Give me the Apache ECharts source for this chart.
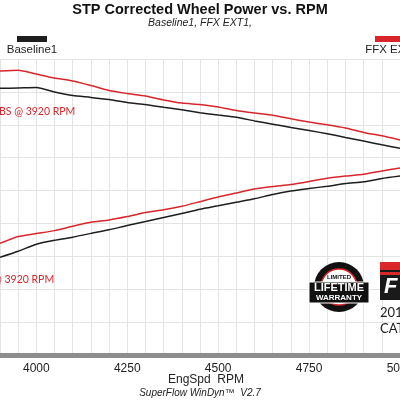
<!DOCTYPE html>
<html>
<head>
<meta charset="utf-8">
<script src="https://cdn.jsdelivr.net/npm/echarts@6/dist/echarts.min.js"></script>
<style>
  html, body { margin: 0; padding: 0; background: #fff; }
  #chart { width: 400px; height: 400px; }
</style>
</head>
<body>
<div id="chart"></div>
<script>
// engine speed, every 50 rpm
const rpm = [3900, 3950, 4000, 4050, 4100, 4150, 4200, 4250, 4300, 4350, 4400, 4450,
  4500, 4550, 4600, 4650, 4700, 4750, 4800, 4850, 4900, 4950, 5000]

// upper pair: torque, lower pair: power (chart units, y axis is hidden)
const baselineTorque = [405.5, 405.9, 406.5, 399.8, 394.4, 391.6, 388.3, 383.9, 380.7, 376.7, 372.8, 368.4,
  364.7, 361.4, 355.9, 350.9, 345.9, 341.3, 336.3, 330.8, 325.3, 319.6, 314.2]
const ffxTorque = [431.8, 433.0, 427.1, 421.1, 416.6, 409.7, 402.1, 397.6, 393.8, 387.8, 383.0, 380.8,
  377.2, 371.7, 367.8, 364.4, 359.1, 354.2, 350.0, 345.1, 338.4, 333.2, 326.9]
const baselinePower = [148.5, 157.8, 168.4, 174.4, 179.1, 184.9, 190.3, 196.9, 202.8, 209.0, 215.1, 221.5,
  226.8, 232.2, 237.5, 244.0, 249.3, 253.1, 256.6, 260.7, 263.3, 268.3, 272.1]
const ffxPower = [169.8, 180.2, 184.7, 189.1, 195.8, 201.7, 205.2, 210.4, 216.5, 220.7, 226.1, 233.1,
  240.2, 246.3, 252.4, 256.2, 259.2, 263.8, 268.8, 272.1, 274.7, 279.7, 284.3]

const xTicks = [4000, 4250, 4500, 4750, 5000]
const runNames = ['Baseline1', 'FFX EXT1']

const RED = '#d8262b'
const BLACK = '#1e1e1e'
const GRID = '#e4e4e4'
const SANS = '"Liberation Sans", Arial, sans-serif'
const LABEL_FONT = 'Lato, "Open Sans", sans-serif'

const pairs = (ys) => rpm.map((r, i) => [r, ys[i]])

const chart = echarts.init(document.getElementById('chart'))

const option = {
  backgroundColor: '#fff',
  animation: false,
  title: {
    text: 'STP Corrected Wheel Power vs. RPM',
    subtext: runNames.join(', ') + ',',
    left: 'center',
    top: -3,
    itemGap: 1,
    textStyle: { fontFamily: SANS, fontSize: 14.5, fontWeight: 'bold', color: '#111' },
    subtextStyle: { fontFamily: SANS, fontSize: 10.5, fontStyle: 'italic', color: '#222' },
  },
  // outer bounds off so the 5000 label can run past the right edge
  grid: { left: 0, right: 0, top: 59, bottom: 45, outerBoundsMode: 'none', containLabel: false },
  xAxis: {
    type: 'value',
    min: 3900,
    max: 5000,
    interval: 50,
    axisLine: { lineStyle: { color: '#8d8d8d', width: 5 } },
    axisTick: { show: false },
    axisLabel: {
      margin: 8,
      fontFamily: SANS,
      fontSize: 12,
      color: '#222',
      showMaxLabel: true,
      hideOverlap: false,
      formatter: (v) => (xTicks.includes(v) ? String(v) : ''),
    },
    splitLine: { show: true, lineStyle: { color: GRID, width: 1 } },
  },
  yAxis: {
    type: 'value',
    min: 0,
    max: 450,
    interval: 50,
    axisLine: { show: false },
    axisTick: { show: false },
    axisLabel: { show: false },
    splitLine: { show: true, lineStyle: { color: GRID, width: 1 } },
  },
  series: [
    { name: 'Baseline1 TQ', data: pairs(baselineTorque), color: BLACK },
    { name: 'FFX EXT1 TQ', data: pairs(ffxTorque), color: RED },
    { name: 'Baseline1 HP', data: pairs(baselinePower), color: BLACK },
    { name: 'FFX EXT1 HP', data: pairs(ffxPower), color: RED },
  ].map((s) => ({
    type: 'line',
    name: s.name,
    data: s.data,
    symbol: 'none',
    smooth: 0.2,
    lineStyle: { width: 1.5, color: s.color },
    z: 3,
  })),
  graphic: [
    // legend swatches with the run name under each
    { type: 'rect', shape: { x: 17, y: 36, width: 30, height: 6 }, style: { fill: BLACK } },
    { type: 'text', x: 32, y: 50, style: { text: runNames[0], font: '11.5px ' + SANS, fill: '#222', align: 'center', verticalAlign: 'middle' } },
    { type: 'rect', shape: { x: 375, y: 36, width: 30, height: 6 }, style: { fill: RED } },
    { type: 'text', x: 392, y: 50, style: { text: runNames[1], font: '11.5px ' + SANS, fill: '#222', align: 'center', verticalAlign: 'middle' } },

    // peak notes, cut off at the left edge like the original
    { type: 'text', x: -1, y: 112, z: 10, style: { text: 'BS @ 3920 RPM', font: '10.5px ' + LABEL_FONT, fill: RED, verticalAlign: 'middle' } },
    { type: 'text', x: -7, y: 280, z: 10, style: { text: '@ 3920 RPM', font: '10.5px ' + LABEL_FONT, fill: RED, verticalAlign: 'middle' } },

    // warranty badge
    { type: 'circle', shape: { cx: 339, cy: 287, r: 25 }, style: { fill: '#111' }, z: 10 },
    { type: 'circle', shape: { cx: 339, cy: 287, r: 18 }, style: { fill: '#fff', stroke: RED, lineWidth: 1.5 }, z: 10 },
    { type: 'text', x: 339, y: 277, z: 11, style: { text: 'LIMITED', font: 'bold 6px ' + SANS, fill: '#111', align: 'center', verticalAlign: 'middle' } },
    { type: 'rect', shape: { x: 309, y: 282, width: 60, height: 21 }, style: { fill: '#111', stroke: '#fff', lineWidth: 1 }, z: 10 },
    { type: 'text', x: 339, y: 288, z: 11, style: { text: 'LIFETIME', font: 'bold 11px ' + SANS, fill: '#fff', align: 'center', verticalAlign: 'middle' } },
    { type: 'text', x: 339, y: 298, z: 11, style: { text: 'WARRANTY', font: 'bold 8px ' + SANS, fill: '#fff', align: 'center', verticalAlign: 'middle' } },

    // brand box at the right edge
    { type: 'rect', shape: { x: 380, y: 262, width: 24, height: 10 }, style: { fill: RED }, z: 10 },
    { type: 'rect', shape: { x: 380, y: 270, width: 24, height: 30 }, style: { fill: '#1a1a1a' }, z: 10 },
    { type: 'rect', shape: { x: 380, y: 272, width: 24, height: 3 }, style: { fill: RED }, z: 10 },
    { type: 'text', x: 384, y: 287, z: 11, style: { text: 'F', font: 'italic bold 22px ' + SANS, fill: '#fff', verticalAlign: 'middle' } },
    { type: 'text', x: 380, y: 313, z: 10, style: { text: '201', font: '13px ' + LABEL_FONT, fill: '#222', verticalAlign: 'middle' } },
    { type: 'text', x: 380, y: 329, z: 10, style: { text: 'CAT', font: '13px ' + LABEL_FONT, fill: '#222', verticalAlign: 'middle' } },

    // axis title and footer
    { type: 'text', x: 206, y: 380, style: { text: 'EngSpd  RPM', font: '12px ' + SANS, fill: '#222', align: 'center', verticalAlign: 'middle' } },
    { type: 'text', x: 200, y: 393, style: { text: 'SuperFlow WinDyn\u2122  V2.7', font: 'italic 10px ' + SANS, fill: '#222', align: 'center', verticalAlign: 'middle' } },
  ],
}

chart.setOption(option)
window.addEventListener('resize', () => chart.resize())
</script>
</body>
</html>
